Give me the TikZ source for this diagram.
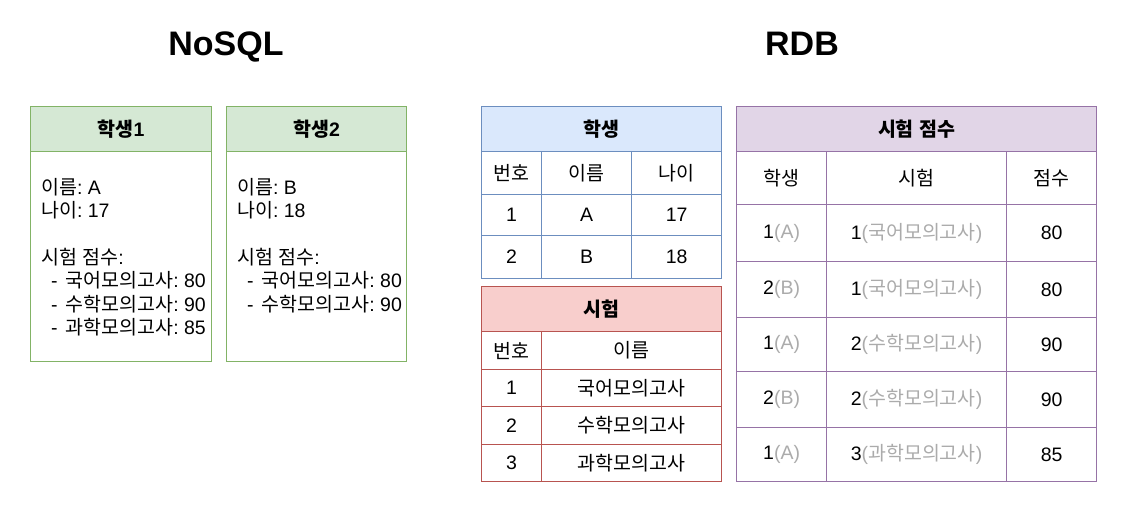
\documentclass[tikz,border=0pt]{standalone}
\usepackage{fontspec}
\setmainfont{Liberation Sans}
\newfontfamily\krfont{Noto Sans CJK KR}
\frenchspacing

% hangul syllables go to the korean font, everything else stays latin
\XeTeXinterchartokenstate=1
\chardef\hangulclass=10
\count255=32
\loop
  \XeTeXcharclass\count255=0
  \ifnum\count255<126 \advance\count255 by 1
\repeat
\count255="AC00
\loop
  \XeTeXcharclass\count255=\hangulclass
  \ifnum\count255<"D7A3 \advance\count255 by 1
\repeat
\XeTeXinterchartoks 0 \hangulclass={\krfont}
\XeTeXinterchartoks 4095 \hangulclass={\krfont}
\XeTeXinterchartoks \hangulclass 0={\rmfamily}
\XeTeXinterchartoks \hangulclass 4095={\rmfamily}

\definecolor{greenline}{HTML}{82B366}
\definecolor{greenfill}{HTML}{D5E8D4}
\definecolor{blueline}{HTML}{6C8EBF}
\definecolor{bluefill}{HTML}{DAE8FC}
\definecolor{redline}{HTML}{B85450}
\definecolor{redfill}{HTML}{F8CECC}
\definecolor{purpleline}{HTML}{9673A6}
\definecolor{purplefill}{HTML}{E1D5E7}
\definecolor{greytext}{HTML}{ABABAB}
\newcommand\gy[1]{\textcolor{greytext}{#1}}

\begin{document}
\begin{tikzpicture}[
        x=1pt, y=-1pt,
        every node/.style={inner sep=0pt, font=\fontsize{19.5}{23.4}\selectfont\frenchspacing},
        title/.style={font=\fontsize{34}{40}\selectfont\bfseries},
        cell/.style={draw=#1, line width=1.2pt, anchor=north west},
        hd/.style={cell=#1line, fill=#1fill, font=\fontsize{19.5}{23.4}\selectfont\bfseries}
    ]
        \useasboundingbox (0,0) rectangle (1125,510);
        \node[title, anchor=base] (nosql) at (226,56) {NoSQL};
        \node[title, anchor=base] (rdb) at (802,56) {RDB};

        % NoSQL documents
        \node[hd=green, minimum width=181, minimum height=45] (doc1-head) at (30,106) {학생1};
        \node[cell=greenline, minimum width=181, minimum height=210] (doc1-body) at (30,151) {};
        \node[anchor=north west, align=left] (doc1-text) at (41,178) {이름: A\\나이: 17\\[23.4pt]시험 점수:\\
            \hspace*{10pt}-\hspace*{8pt}국어모의고사: 80\\
            \hspace*{10pt}-\hspace*{8pt}수학모의고사: 90\\
            \hspace*{10pt}-\hspace*{8pt}과학모의고사: 85};
        \node[hd=green, minimum width=180, minimum height=45] (doc2-head) at (226,106) {학생2};
        \node[cell=greenline, minimum width=180, minimum height=210] (doc2-body) at (226,151) {};
        \node[anchor=north west, align=left] (doc2-text) at (237,178) {이름: B\\나이: 18\\[23.4pt]시험 점수:\\
            \hspace*{10pt}-\hspace*{8pt}국어모의고사: 80\\
            \hspace*{10pt}-\hspace*{8pt}수학모의고사: 90};

        % RDB tables
        \node[hd=blue, minimum width=240, minimum height=45] (stu-head) at (481,106) {학생};
        \foreach \ry/\rh/\ca/\cb/\cc [count=\i] in {151/43/번호/이름/나이, 194/41/1/A/17, 235/43/2/B/18} {
            \node[cell=blueline, minimum width=60, minimum height=\rh] (stu-\i-1) at (481,\ry) {\ca};
            \node[cell=blueline, minimum width=90, minimum height=\rh] (stu-\i-2) at (541,\ry) {\cb};
            \node[cell=blueline, minimum width=90, minimum height=\rh] (stu-\i-3) at (631,\ry) {\cc};
        }

        \node[hd=red, minimum width=240, minimum height=45] (exam-head) at (481,286) {시험};
        \foreach \ry/\rh/\ca/\cb [count=\i] in {331/38/번호/이름, 369/37/1/국어모의고사, 406/38/2/수학모의고사, 444/37/3/과학모의고사} {
            \node[cell=redline, minimum width=60, minimum height=\rh] (exam-\i-1) at (481,\ry) {\ca};
            \node[cell=redline, minimum width=180, minimum height=\rh] (exam-\i-2) at (541,\ry) {\cb};
        }

        \node[hd=purple, minimum width=360, minimum height=45] (score-head) at (736,106) {시험 점수};
        \foreach \ry/\rh/\ca/\cb/\cc [count=\i] in {151/53/학생/시험/점수,
                204/57/1\gy{(A)}/1\gy{(국어모의고사)}/80,
                261/56/2\gy{(B)}/1\gy{(국어모의고사)}/80,
                317/54/1\gy{(A)}/2\gy{(수학모의고사)}/90,
                371/56/2\gy{(B)}/2\gy{(수학모의고사)}/90,
                427/54/1\gy{(A)}/3\gy{(과학모의고사)}/85} {
            \node[cell=purpleline, minimum width=90, minimum height=\rh] (score-\i-1) at (736,\ry) {\ca};
            \node[cell=purpleline, minimum width=180, minimum height=\rh] (score-\i-2) at (826,\ry) {\cb};
            \node[cell=purpleline, minimum width=90, minimum height=\rh] (score-\i-3) at (1006,\ry) {\cc};
        }
    \end{tikzpicture}
\end{document}
